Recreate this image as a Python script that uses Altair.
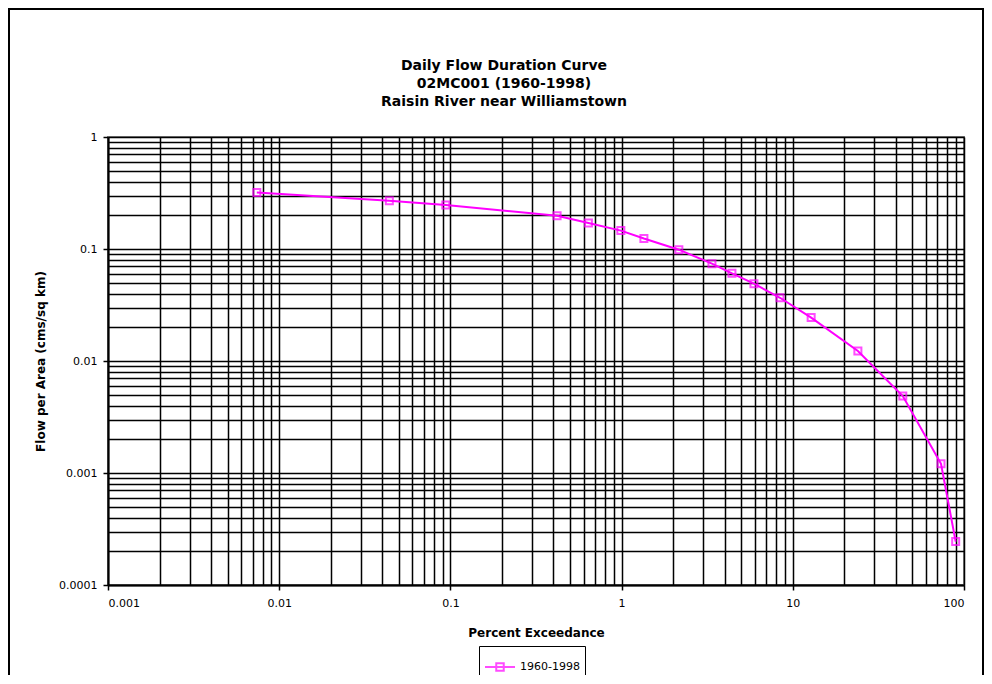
import altair as alt
import pandas as pd

# Data
exceedance = [0.0074, 0.044, 0.094, 0.42, 0.64, 0.99, 1.35, 2.16, 3.37, 4.41,
              5.93, 8.42, 12.8, 24.0, 43.9, 73.4, 89.4]
flow = [0.32, 0.27, 0.247, 0.198, 0.171, 0.146, 0.124, 0.0986, 0.074, 0.0607,
        0.049, 0.0367, 0.0244, 0.0123, 0.00487, 0.00121, 0.000244]
series_name = "1960-1998"

x_decades = [-3, -2, -1, 0, 1]
y_decades = [-4, -3, -2, -1]
x_ticks = [float(f"{k}e{d}") for d in x_decades for k in range(1, 10)] + [100.0]
y_ticks = [float(f"{k}e{d}") for d in y_decades for k in range(1, 10)] + [1.0]

df = pd.DataFrame({"x": exceedance, "y": flow, "series": [series_name] * len(flow)})

FONT = "DejaVu Sans"
W, H = 856, 448
major_test = "abs(log(datum.value)/LN10 - round(log(datum.value)/LN10)) < 0.001"

xenc = alt.X(
    "x:Q",
    scale=alt.Scale(type="log", domain=[0.001, 100], nice=False),
    axis=alt.Axis(
        title="Percent Exceedance", values=x_ticks, format="~g",
        labelExpr=f"({major_test}) ? datum.label : ''",
        grid=True, gridColor="black", gridWidth=1.5, gridOpacity=1,
        domainColor="black", domainWidth=2,
        tickColor="black", tickSize=5, tickWidth=1.5,
        tickOpacity={"condition": {"test": major_test, "value": 1}, "value": 0},
        labelFont=FONT, labelFontSize=11, labelColor="black", labelPadding=7,
        titleFont=FONT, titleFontSize=12, titleFontWeight="bold", titleColor="black",
        titleY=47, titleBaseline="middle",
    ),
)
yenc = alt.Y(
    "y:Q",
    scale=alt.Scale(type="log", domain=[0.0001, 1], nice=False),
    axis=alt.Axis(
        title="Flow per Area (cms/sq km)", values=y_ticks, format="~g",
        labelExpr=f"({major_test}) ? datum.label : ''",
        grid=True, gridColor="black", gridWidth=1.5, gridOpacity=1,
        domainColor="black", domainWidth=2,
        tickColor="black", tickSize=5, tickWidth=1.5,
        tickOpacity={"condition": {"test": major_test, "value": 1}, "value": 0},
        labelFont=FONT, labelFontSize=11, labelColor="black", labelPadding=6,
        titleFont=FONT, titleFontSize=12, titleFontWeight="bold", titleColor="black",
        titleX=-68, titleY=H / 2, titleAngle=270, titleAlign="center", titleBaseline="middle",
    ),
)
color = alt.Color(
    "series:N",
    scale=alt.Scale(domain=[series_name], range=["#FF00FF"]),
    legend=alt.Legend(
        title=None, orient="none", legendX=371, legendY=509,
        strokeColor="black", padding=5, fillColor="white",
        symbolType="M-1,0H1M-0.25,-0.25H0.25V0.25H-0.25Z",
        symbolSize=900, symbolStrokeWidth=2,
        labelFont=FONT, labelFontSize=11, labelColor="black",
    ),
)

frame = alt.Chart(pd.DataFrame({"a": [0]})).mark_rect(
    fill="transparent", stroke="black", strokeWidth=2
).encode(
    x=alt.value(-99), x2=alt.value(875), y=alt.value(-128), y2=alt.value(570)
)

line = alt.Chart(df).mark_line(strokeWidth=2).encode(x=xenc, y=yenc, color=color)
points = alt.Chart(df).mark_point(shape="square", filled=False, size=49, strokeWidth=2).encode(
    x=xenc, y=yenc, color=color
)

chart = alt.layer(frame, line, points).properties(
    width=W, height=H,
    title=alt.TitleParams(
        text=["Daily Flow Duration Curve", "02MC001 (1960-1998)", "Raisin River near Williamstown"],
        font=FONT, fontSize=14, fontWeight="bold", color="black",
        orient="none", anchor="middle", frame="group", baseline="middle",
        dx=396, dy=-71, lineHeight=18,
    ),
    autosize=alt.AutoSizeParams(type="none"),
    padding={"left": 100, "top": 129, "right": 20, "bottom": 90},
).configure_view(stroke="#808080", strokeWidth=2)

chart.save("out.html", embed_options={"renderer": "svg", "actions": False})
